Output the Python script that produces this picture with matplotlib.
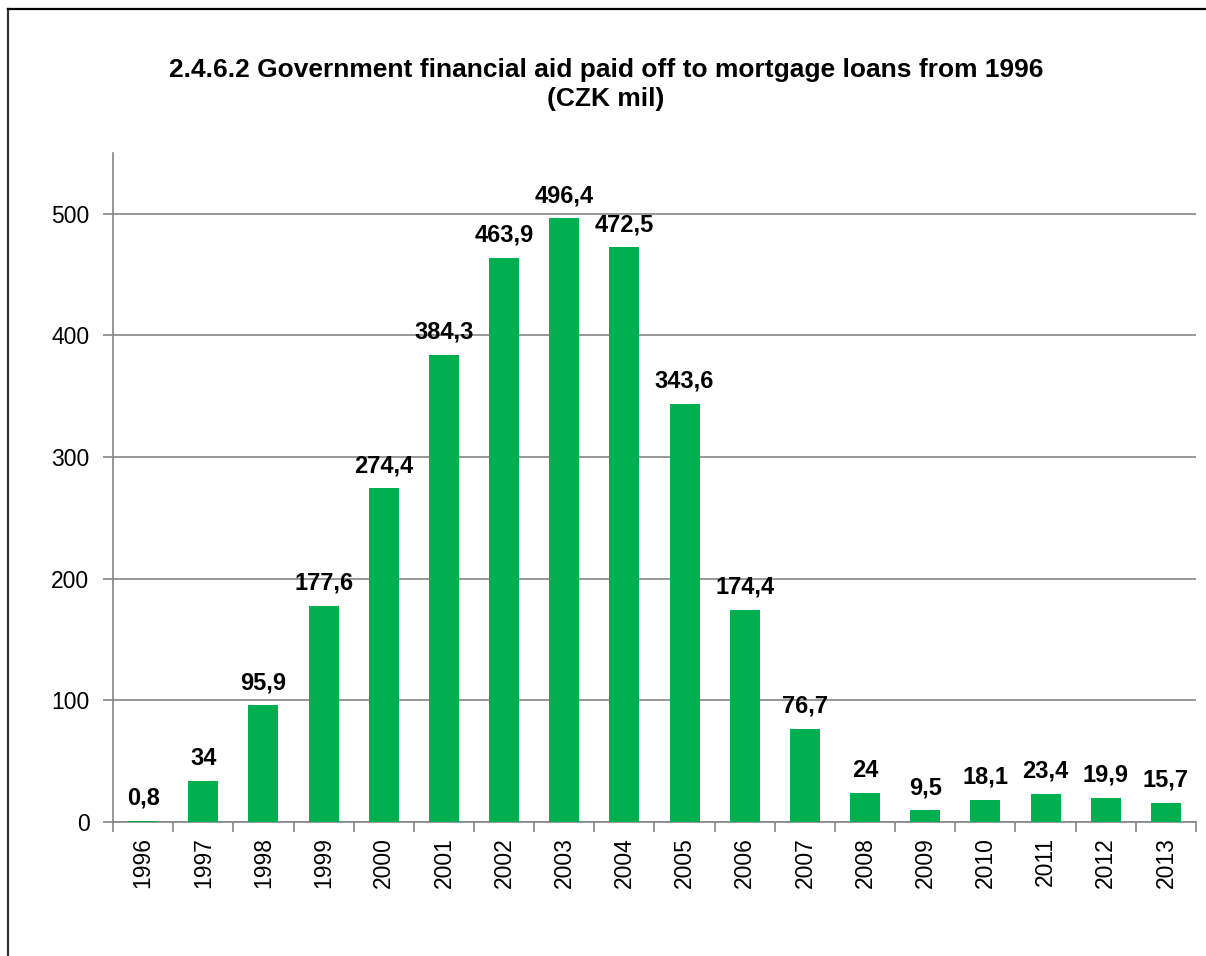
import numpy as np
import matplotlib
matplotlib.use('Agg')
import matplotlib.pyplot as plt
from matplotlib.lines import Line2D

# data
years = ['1996', '1997', '1998', '1999', '2000', '2001', '2002', '2003', '2004',
         '2005', '2006', '2007', '2008', '2009', '2010', '2011', '2012', '2013']
aid = [0.8, 34, 95.9, 177.6, 274.4, 384.3, 463.9, 496.4, 472.5,
       343.6, 174.4, 76.7, 24, 9.5, 18.1, 23.4, 19.9, 15.7]
yticks = [0, 100, 200, 300, 400, 500]

plt.rcParams['font.family'] = ['Liberation Sans', 'DejaVu Sans']

green = '#00B050'
grey = '#868686'

fig = plt.figure(figsize=(12.06, 9.56), dpi=100)
ax = fig.add_axes([0.0937, 0.1402, 0.8980, 0.6998])

x = np.arange(len(years))
bars = ax.bar(x, aid, width=0.5, color=green, zorder=3)

def fmt(v):
    s = ('%g' % v)
    return s.replace('.', ',')

for xi, v in zip(x, aid):
    ax.annotate(fmt(v), (xi, v), xytext=(0, 8), textcoords='offset points',
                ha='center', va='bottom', fontsize=17, fontweight='bold')

ax.set_xlim(-0.5, len(years) - 0.5)
ax.set_ylim(0, 550)
ax.set_yticks(yticks)
ax.set_yticklabels([str(t) for t in yticks], fontsize=16.5)
ax.yaxis.grid(True, color=grey, linewidth=1.2, zorder=0)

ax.set_xticks(x)
ax.set_xticklabels(years, rotation=90, fontsize=16.5)
ax.tick_params(axis='x', length=0, pad=11)
ax.set_xticks(np.arange(-0.5, len(years)), minor=True)
ax.tick_params(axis='x', which='minor', length=7, color=grey, width=1.2)
ax.tick_params(axis='y', length=7, color=grey, width=1.2, pad=10)

for side in ['top', 'right']:
    ax.spines[side].set_visible(False)
for side in ['left', 'bottom']:
    ax.spines[side].set_color(grey)
    ax.spines[side].set_linewidth(1.2)

fig.text(0.5025, 0.912, '2.4.6.2 Government financial aid paid off to mortgage loans from 1996\n(CZK mil)',
         ha='center', va='center', fontsize=19, fontweight='bold', linespacing=1.25)

# chart frame (left and top edges only visible)
fig.add_artist(Line2D([7.5 / 1206, 7.5 / 1206], [0, 1 - 8.5 / 956], transform=fig.transFigure,
                      color='#333333', linewidth=1.6))
fig.add_artist(Line2D([7.5 / 1206, 1], [1 - 8.5 / 956, 1 - 8.5 / 956], transform=fig.transFigure,
                      color='black', linewidth=1.6))

plt.savefig('out.png', dpi=100)
